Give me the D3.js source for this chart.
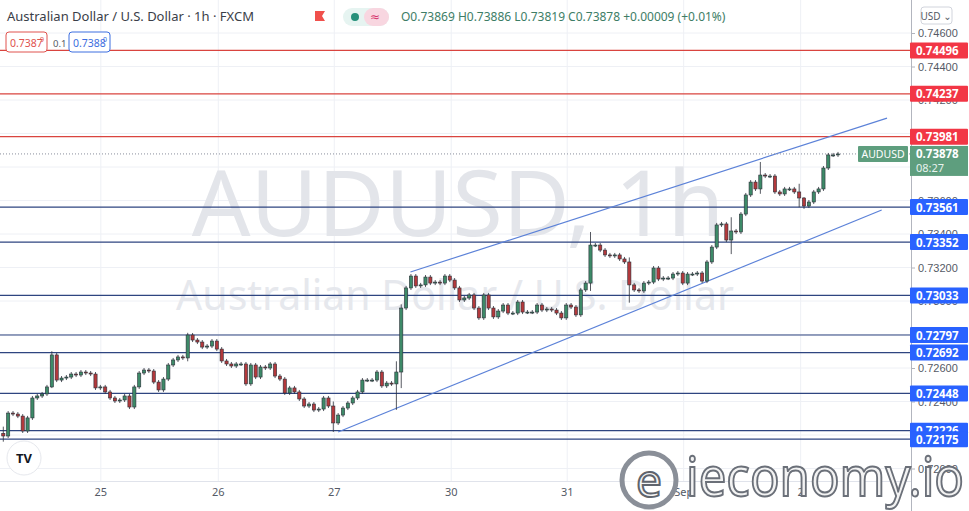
<!DOCTYPE html>
<html>
<head>
<meta charset="utf-8">
<script src="https://cdn.jsdelivr.net/npm/d3@7"></script>
<style>
  body { margin: 0; background: #fff; }
  svg { font-family: "Noto Sans", "DejaVu Sans", sans-serif; }
</style>
</head>
<body>
<svg id="chart" width="969" height="511"></svg>
<script>
// hourly closes, AUDUSD
var closes = [
  0.72194,0.72331,0.72325,0.72313,0.72224,0.72302,0.72421,0.72433,0.72445,0.72487,
  0.72678,0.72528,0.72540,0.72546,0.72564,0.72558,0.72576,0.72570,0.72564,0.72481,
  0.72487,0.72457,0.72421,0.72403,0.72409,0.72433,0.72367,0.72487,0.72570,0.72588,
  0.72582,0.72516,0.72469,0.72534,0.72618,0.72648,0.72666,0.72660,0.72797,0.72767,
  0.72755,0.72725,0.72731,0.72761,0.72713,0.72642,0.72624,0.72612,0.72624,0.72624,
  0.72505,0.72618,0.72546,0.72606,0.72600,0.72624,0.72552,0.72534,0.72451,0.72481,
  0.72457,0.72415,0.72373,0.72385,0.72349,0.72355,0.72421,0.72373,0.72272,0.72319,
  0.72361,0.72391,0.72421,0.72457,0.72528,0.72528,0.72528,0.72576,0.72493,0.72510,
  0.72505,0.72576,0.72958,0.73078,0.73149,0.73090,0.73096,0.73143,0.73107,0.73113,
  0.73107,0.73149,0.73125,0.73078,0.73006,0.73018,0.73036,0.72958,0.72899,0.73036,
  0.72958,0.72905,0.72940,0.72976,0.72928,0.72928,0.72994,0.72934,0.72934,0.72934,
  0.72976,0.72946,0.72952,0.72946,0.72928,0.72899,0.72976,0.72964,0.72917,0.73066,
  0.73107,0.73334,0.73334,0.73304,0.73275,0.73269,0.73275,0.73251,0.73233,0.73096,
  0.73066,0.73060,0.73107,0.73113,0.73197,0.73131,0.73137,0.73137,0.73161,0.73167,
  0.73107,0.73161,0.73161,0.73167,0.73119,0.73233,0.73322,0.73454,0.73460,0.73364,
  0.73418,0.73412,0.73519,0.73633,0.73710,0.73669,0.73752,0.73746,0.73746,0.73651,
  0.73639,0.73669,0.73669,0.73651,0.73615,0.73567,0.73591,0.73651,0.73669,0.73794,
  0.73872,0.73872,0.73878
];
var firstOpen = 0.72210;
// notable wicks: index -> [high, low]
var wicks = {
  0: [0.72250, 0.72160], 10: [0.72700, 0.72480], 38: [0.72810, 0.72640],
  68: [0.72400, 0.72218], 81: [0.72640, 0.72350], 82: [0.72980, 0.72480],
  121: [0.73412, 0.73060], 129: [0.73260, 0.72990], 156: [0.73830, 0.73640],
  164: [0.73700, 0.73560], 165: [0.73620, 0.73550], 150: [0.73500, 0.73280]
};
var dayTicks = [20.1, 44.3, 68.2, 92.3, 116.2, 140.2, 164.3];
var dayLabels = ["25", "26", "27", "30", "31", "Sep", "2"];
var priceTicks = [0.746,0.744,0.742,0.740,0.738,0.736,0.734,0.732,0.730,0.728,0.726,0.724,0.722,0.720];
var resistance = [0.74496, 0.74237, 0.73981];
var support = [0.73561, 0.73352, 0.73033, 0.72797, 0.72692, 0.72448, 0.72226, 0.72175];
var channelTop = [[83.9, 0.73173], [182.1, 0.74092]];
var channelBottom = [[69, 0.72218], [181, 0.73543]];
var lastPrice = 0.73878;

var svg = d3.select("#chart");
var plotRight = 911;
var x = d3.scaleLinear().domain([0, 172]).range([3.3, 838]);
var y = d3.scaleLinear().domain([0.746, 0.720]).range([33, 468.5]);

svg.append("clipPath").attr("id", "clip").append("rect")
  .attr("x", 0).attr("y", 0).attr("width", plotRight).attr("height", 481);
var plot = svg.append("g").attr("clip-path", "url(#clip)");

// grid
plot.selectAll(".hg").data(priceTicks).enter().append("line")
  .attr("x1", 0).attr("x2", plotRight)
  .attr("y1", d => y(d)).attr("y2", d => y(d))
  .attr("stroke", "#eef0f5");
plot.selectAll(".vg").data(dayTicks).enter().append("line")
  .attr("x1", d => x(d)).attr("x2", d => x(d))
  .attr("y1", 0).attr("y2", 481)
  .attr("stroke", "#eef0f5");

// watermarks
plot.append("text").attr("x", 458).attr("y", 236).attr("text-anchor", "middle")
  .attr("font-size", 92).attr("fill", "#e3e5ea").text("AUDUSD, 1h");
plot.append("text").attr("x", 455).attr("y", 310).attr("text-anchor", "middle")
  .attr("font-size", 41).attr("fill", "#e6e8ed").text("Australian Dollar / U.S. Dollar");

// levels
plot.selectAll(".res").data(resistance).enter().append("line")
  .attr("x1", 0).attr("x2", plotRight)
  .attr("y1", d => y(d)).attr("y2", d => y(d))
  .attr("stroke", "#d9443f").attr("stroke-width", 1.2);
plot.selectAll(".sup").data(support).enter().append("line")
  .attr("x1", 0).attr("x2", plotRight)
  .attr("y1", d => y(d)).attr("y2", d => y(d))
  .attr("stroke", "#2e4580").attr("stroke-width", 1.2);

// channel
var line = d3.line().x(d => x(d[0])).y(d => y(d[1]));
[channelTop, channelBottom].forEach(function (c) {
  plot.append("path").attr("d", line(c)).attr("fill", "none")
    .attr("stroke", "#5c82d8").attr("stroke-width", 1.2);
});

plot.append("line").attr("x1", 0).attr("x2", plotRight)
  .attr("y1", y(lastPrice)).attr("y2", y(lastPrice))
  .attr("stroke", "#8a8f9c").attr("stroke-dasharray", "1,2");

// candles
var candles = closes.map(function (c, i) {
  var o = i === 0 ? firstOpen : closes[i - 1];
  var w = wicks[i];
  var h = w ? w[0] : Math.max(o, c) + 0.00012;
  var l = w ? w[1] : Math.min(o, c) - 0.00012;
  return { i: i, o: o, h: h, l: l, c: c };
});
var up = "#3d8a68", dn = "#b3393c";
var cg = plot.selectAll(".candle").data(candles).enter().append("g");
cg.append("line")
  .attr("x1", d => x(d.i)).attr("x2", d => x(d.i))
  .attr("y1", d => y(d.h)).attr("y2", d => y(d.l))
  .attr("stroke", "#2b2f38").attr("stroke-width", 0.8);
cg.append("rect")
  .attr("x", d => x(d.i) - 1.6).attr("width", 3.2)
  .attr("y", d => y(Math.max(d.o, d.c)))
  .attr("height", d => Math.max(1, Math.abs(y(d.o) - y(d.c))))
  .attr("fill", d => d.c >= d.o ? up : dn)
  .attr("stroke", "#2b2f38").attr("stroke-width", 0.6);

// TV logo
svg.append("circle").attr("cx", 24).attr("cy", 458).attr("r", 17).attr("fill", "#fff").attr("stroke", "#e6e8ed");
svg.append("text").attr("x", 24).attr("y", 463).attr("text-anchor", "middle")
  .attr("font-size", 13).attr("font-weight", "bold").attr("fill", "#131722").text("TV");

// right axis
svg.append("line").attr("x1", plotRight + 0.5).attr("x2", plotRight + 0.5)
  .attr("y1", 0).attr("y2", 511).attr("stroke", "#b2b5be");
var axis = d3.axisRight(y).tickValues(priceTicks).tickSize(4).tickFormat(d3.format(".5f"));
var ag = svg.append("g").attr("transform", "translate(" + plotRight + ",0)").call(axis);
ag.select(".domain").remove();
ag.selectAll("text").attr("font-size", 11).attr("fill", "#555a66");
ag.selectAll("line").attr("stroke", "#b2b5be");

function tag(v, color) {
  svg.append("rect").attr("x", plotRight - 1).attr("y", y(v) - 8).attr("width", 58).attr("height", 16)
    .attr("fill", color).attr("rx", 1);
  svg.append("text").attr("x", plotRight + 5).attr("y", y(v) + 4.5)
    .attr("font-size", 11.5).attr("font-weight", "bold").attr("fill", "#fff").text(v.toFixed(5));
}
resistance.forEach(v => tag(v, "#f23645"));
support.forEach(v => tag(v, "#2962ff"));

svg.append("rect").attr("x", plotRight - 1).attr("y", y(lastPrice) - 8).attr("width", 58).attr("height", 30).attr("fill", "#5e9e7e");
svg.append("text").attr("x", plotRight + 5).attr("y", y(lastPrice) + 4.5)
  .attr("font-size", 11.5).attr("font-weight", "bold").attr("fill", "#fff").text(lastPrice.toFixed(5));
svg.append("text").attr("x", plotRight + 5).attr("y", y(lastPrice) + 18)
  .attr("font-size", 11).attr("fill", "#e8f3ee").text("08:27");
svg.append("rect").attr("x", 858).attr("y", y(lastPrice) - 8).attr("width", 50).attr("height", 16).attr("fill", "#5e9e7e").attr("rx", 1);
svg.append("text").attr("x", 883).attr("y", y(lastPrice) + 4).attr("text-anchor", "middle")
  .attr("font-size", 10.5).attr("fill", "#fff").text("AUDUSD");

svg.append("rect").attr("x", 921).attr("y", 7).attr("width", 31).attr("height", 17)
  .attr("fill", "#fff").attr("stroke", "#d1d4dc").attr("rx", 3);
svg.append("text").attr("x", 936).attr("y", 19.5).attr("text-anchor", "middle")
  .attr("font-size", 10).attr("fill", "#555a66").text("USD ⌄");

// bottom axis
svg.append("line").attr("x1", 0).attr("x2", plotRight).attr("y1", 481.5).attr("y2", 481.5).attr("stroke", "#e0e3eb");
svg.selectAll(".dl").data(dayTicks).enter().append("text")
  .attr("x", d => x(d)).attr("y", 496).attr("text-anchor", "middle")
  .attr("font-size", 11).attr("fill", "#555a66")
  .text((d, i) => dayLabels[i]);

// ieconomy logo watermark (on top)
svg.append("circle").attr("cx", 649).attr("cy", 480).attr("r", 27)
  .attr("fill", "#fff").attr("fill-opacity", 0.6).attr("stroke", "#8a8f98").attr("stroke-width", 5);
svg.append("text").attr("x", 649).attr("y", 497).attr("text-anchor", "middle")
  .attr("font-size", 46).attr("fill", "#f4f4f4").attr("stroke", "#5f646d").attr("stroke-width", 2)
  .text("e");
svg.append("text").attr("x", 686).attr("y", 496)
  .attr("font-size", 54).attr("textLength", 278).attr("lengthAdjust", "spacingAndGlyphs")
  .attr("fill", "#f3f3f3").attr("stroke", "#6b7079").attr("stroke-width", 2)
  .text("ieconomy.io");

// header
svg.append("text").attr("x", 7).attr("y", 21).attr("font-size", 13).attr("fill", "#3a3e48")
  .text("Australian Dollar / U.S. Dollar · 1h · FXCM");
svg.append("path").attr("d", "M315,11 h10 l-3,5 l3,5 h-10 z").attr("fill", "#f0504c");
svg.append("rect").attr("x", 343).attr("y", 8).attr("width", 46).attr("height", 18).attr("rx", 9).attr("fill", "#e6f4f1");
svg.append("rect").attr("x", 364).attr("y", 8).attr("width", 25).attr("height", 18).attr("rx", 9).attr("fill", "#f8d6e0");
svg.append("circle").attr("cx", 355).attr("cy", 17).attr("r", 4).attr("fill", "#26907a");
svg.append("text").attr("x", 375).attr("y", 21).attr("text-anchor", "middle").attr("font-size", 12).attr("fill", "#d6336c").text("≈");
svg.append("text").attr("x", 401).attr("y", 21).attr("font-size", 12).attr("fill", "#3d7d66")
  .text("O0.73869 H0.73886 L0.73819 C0.73878 +0.00009 (+0.01%)");

// bid / ask boxes
svg.append("rect").attr("x", 6).attr("y", 32).attr("width", 41).attr("height", 20).attr("rx", 3)
  .attr("fill", "#fff").attr("stroke", "#e0524e");
svg.append("text").attr("x", 10).attr("y", 46.5).attr("font-size", 10.5).attr("fill", "#e0524e").text("0.7387");
svg.append("text").attr("x", 40).attr("y", 42).attr("font-size", 7).attr("fill", "#e0524e").text("9");
svg.append("text").attr("x", 53).attr("y", 46.5).attr("font-size", 9.5).attr("fill", "#555a66").text("0.1");
svg.append("rect").attr("x", 69).attr("y", 32).attr("width", 41).attr("height", 20).attr("rx", 3)
  .attr("fill", "#fff").attr("stroke", "#3d6ee0");
svg.append("text").attr("x", 73).attr("y", 46.5).attr("font-size", 10.5).attr("fill", "#3d6ee0").text("0.7388");
svg.append("text").attr("x", 103).attr("y", 42).attr("font-size", 7).attr("fill", "#3d6ee0").text("0");
</script>
</body>
</html>
